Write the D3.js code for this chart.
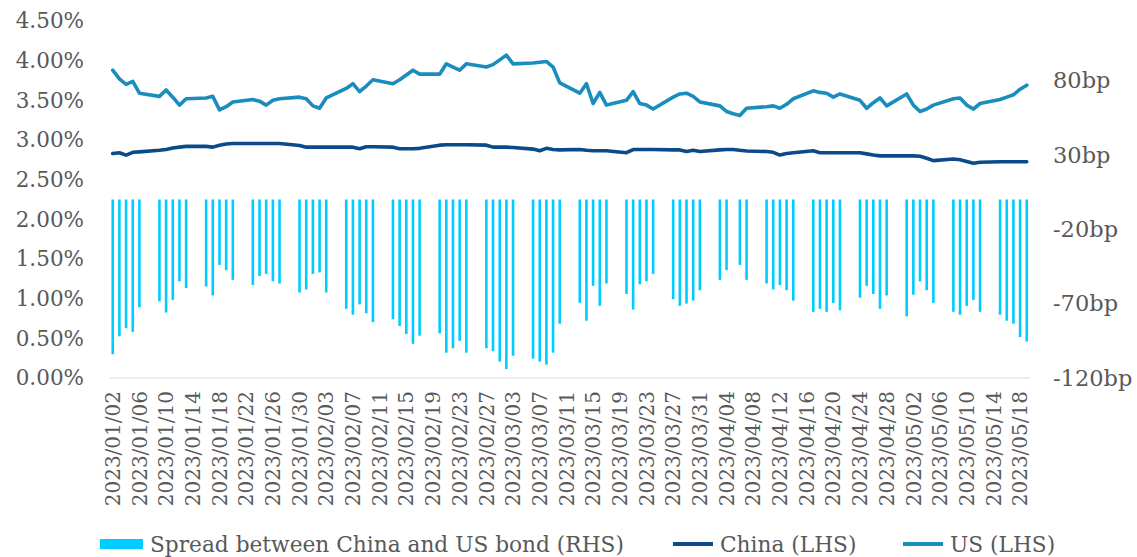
<!DOCTYPE html>
<html>
<head>
<meta charset="utf-8">
<script src="https://cdn.jsdelivr.net/npm/d3@7"></script>
<style>
  html, body { margin: 0; padding: 0; background: #ffffff; }
  svg { display: block; }
  text { font-family: "DejaVu Serif", "Liberation Serif", serif; fill: #595959; }
</style>
</head>
<body>
<svg id="chart" width="1137" height="557"></svg>
<script>
// ---------- DATA ----------
const dates = [
  "2023-01-02","2023-01-03","2023-01-04","2023-01-05","2023-01-06",
  "2023-01-09","2023-01-10","2023-01-11","2023-01-12","2023-01-13",
  "2023-01-16","2023-01-17","2023-01-18","2023-01-19","2023-01-20",
  "2023-01-23","2023-01-24","2023-01-25","2023-01-26","2023-01-27",
  "2023-01-30","2023-01-31","2023-02-01","2023-02-02","2023-02-03",
  "2023-02-06","2023-02-07","2023-02-08","2023-02-09","2023-02-10",
  "2023-02-13","2023-02-14","2023-02-15","2023-02-16","2023-02-17",
  "2023-02-20","2023-02-21","2023-02-22","2023-02-23","2023-02-24",
  "2023-02-27","2023-02-28","2023-03-01","2023-03-02","2023-03-03",
  "2023-03-06","2023-03-07","2023-03-08","2023-03-09","2023-03-10",
  "2023-03-13","2023-03-14","2023-03-15","2023-03-16","2023-03-17",
  "2023-03-20","2023-03-21","2023-03-22","2023-03-23","2023-03-24",
  "2023-03-27","2023-03-28","2023-03-29","2023-03-30","2023-03-31",
  "2023-04-03","2023-04-04","2023-04-05","2023-04-06","2023-04-07",
  "2023-04-10","2023-04-11","2023-04-12","2023-04-13","2023-04-14",
  "2023-04-17","2023-04-18","2023-04-19","2023-04-20","2023-04-21",
  "2023-04-24","2023-04-25","2023-04-26","2023-04-27","2023-04-28",
  "2023-05-01","2023-05-02","2023-05-03","2023-05-04","2023-05-05",
  "2023-05-08","2023-05-09","2023-05-10","2023-05-11","2023-05-12",
  "2023-05-15","2023-05-16","2023-05-17","2023-05-18","2023-05-19"
];

// China 10Y yield (%), LHS
const china = [
  2.83, 2.84, 2.81, 2.845, 2.85,
  2.87, 2.88, 2.90, 2.91, 2.92,
  2.92, 2.91, 2.935, 2.95, 2.955,
  2.955, 2.955, 2.955, 2.955, 2.955,
  2.93, 2.91, 2.91, 2.91, 2.91,
  2.91, 2.91, 2.89, 2.915, 2.915,
  2.91, 2.89, 2.89, 2.89, 2.895,
  2.935, 2.94, 2.94, 2.94, 2.94,
  2.935, 2.91, 2.91, 2.91, 2.905,
  2.885, 2.865, 2.895, 2.88, 2.875,
  2.88, 2.87, 2.865, 2.865, 2.865,
  2.84, 2.88, 2.88, 2.88, 2.88,
  2.875, 2.875, 2.855, 2.87, 2.855,
  2.875, 2.88, 2.88, 2.87, 2.862,
  2.855, 2.845, 2.81, 2.83, 2.84,
  2.865, 2.84, 2.84, 2.84, 2.84,
  2.84, 2.825, 2.81, 2.80, 2.80,
  2.80, 2.80, 2.795, 2.77, 2.74,
  2.76, 2.75, 2.73, 2.706, 2.72,
  2.725, 2.725, 2.725, 2.725, 2.725
];

// US 10Y yield (%), LHS
const us = [
  3.88, 3.77, 3.70, 3.74, 3.59,
  3.55, 3.63, 3.54, 3.44, 3.52,
  3.53, 3.55, 3.38, 3.42, 3.48,
  3.51, 3.49, 3.44, 3.50, 3.52,
  3.54, 3.52, 3.43, 3.40, 3.53,
  3.65, 3.71, 3.61, 3.68, 3.76,
  3.71, 3.76, 3.82, 3.88, 3.83,
  3.83, 3.96, 3.92, 3.88, 3.96,
  3.92, 3.95, 4.01, 4.07, 3.96,
  3.97, 3.98, 3.99, 3.92, 3.72,
  3.59, 3.71, 3.46, 3.60, 3.44,
  3.50, 3.61, 3.46, 3.44, 3.39,
  3.54, 3.58, 3.59, 3.55, 3.48,
  3.43, 3.36, 3.33, 3.31, 3.40,
  3.42, 3.43, 3.40, 3.45, 3.52,
  3.62, 3.60, 3.59, 3.54, 3.58,
  3.50, 3.40, 3.47, 3.53, 3.43,
  3.58, 3.44, 3.36, 3.39, 3.44,
  3.52, 3.53, 3.44, 3.39, 3.46,
  3.51, 3.54, 3.57, 3.64, 3.69
];

// Spread between China and US bond (bp), RHS
const spread = [
  -104, -92, -86.5, -89, -72.5,
  -68.5, -76, -67.5, -55, -59.5,
  -58.5, -64.5, -44, -47.5, -54,
  -57.5, -51.5, -50, -55, -56.5,
  -62.5, -60.5, -50, -49, -62.5,
  -73.5, -77.5, -70.5, -76.5, -82.5,
  -80.5, -85, -90.5, -97, -91.5,
  -90, -103, -100, -95, -103,
  -100, -102, -109, -114, -105,
  -107, -109, -111, -103, -83.5,
  -69.5, -81.5, -58, -71.5, -56.5,
  -63.5, -74, -57, -55, -50,
  -67, -71.5, -70, -68, -61,
  -54, -47.5, null, -44, -54,
  -56.5, -60.5, -57.5, -61, -68,
  -75.5, -73.5, -75.5, -69.5, -74.5,
  -66, -58, -63.5, -73.5, -64.5,
  -78.5, -64, -55, -61, -69.5,
  -75.5, -77.5, -71.5, -67.5, -75.5,
  -77.5, -81.5, -83.5, -92.5, -95.5
];

const xTickLabels = [
  "2023/01/02","2023/01/06","2023/01/10","2023/01/14","2023/01/18","2023/01/22",
  "2023/01/26","2023/01/30","2023/02/03","2023/02/07","2023/02/11","2023/02/15",
  "2023/02/19","2023/02/23","2023/02/27","2023/03/03","2023/03/07","2023/03/11",
  "2023/03/15","2023/03/19","2023/03/23","2023/03/27","2023/03/31","2023/04/04",
  "2023/04/08","2023/04/12","2023/04/16","2023/04/20","2023/04/24","2023/04/28",
  "2023/05/02","2023/05/06","2023/05/10","2023/05/14","2023/05/18"
];
const leftTicks = [0, 0.5, 1, 1.5, 2, 2.5, 3, 3.5, 4, 4.5];
const rightTicks = [-120, -70, -20, 30, 80];

const seriesNames = ["Spread between China and US bond (RHS)", "China (LHS)", "US (LHS)"];
const colors = { spread: "#00CCFF", china: "#0B4A8A", us: "#1A8DBE" };

// ---------- CHART ----------
const svg = d3.select("#chart");
const parse = d3.timeParse("%Y-%m-%d");
const fmtKey = d3.timeFormat("%Y/%m/%d");

const allDays = d3.timeDay.range(parse("2023-01-02"), d3.timeDay.offset(parse("2023-05-19"), 1)).map(fmtKey);

const plot = { left: 109.4, right: 1030.1, top: 21, bottom: 378 };

const x = d3.scaleBand().domain(allDays).range([plot.left, plot.right]).padding(0);
const yL = d3.scaleLinear().domain([0, 4.5]).range([plot.bottom, plot.top]);
const yR = d3.scaleLinear().domain([-120, 120]).range([plot.bottom, plot.top]);

const rows = dates.map((d, i) => ({
  key: fmtKey(parse(d)), china: china[i], us: us[i], spread: spread[i]
}));
const cx = d => x(d.key) + x.bandwidth() / 2;

// bars
const barW = 2.6;
svg.append("g").selectAll("rect")
  .data(rows.filter(r => r.spread != null))
  .join("rect")
  .attr("x", d => cx(d) - barW / 2)
  .attr("y", d => yR(Math.max(0, d.spread)))
  .attr("width", barW)
  .attr("height", d => Math.abs(yR(d.spread) - yR(0)))
  .attr("fill", colors.spread);

// x axis baseline
svg.append("line")
  .attr("x1", plot.left).attr("x2", plot.right)
  .attr("y1", yL(0)).attr("y2", yL(0))
  .attr("stroke", "#d9d9d9").attr("stroke-width", 1.2);

// lines
const lineChina = d3.line().x(cx).y(d => yL(d.china));
const lineUS = d3.line().x(cx).y(d => yL(d.us));
svg.append("path").datum(rows).attr("d", lineChina)
  .attr("fill", "none").attr("stroke", colors.china).attr("stroke-width", 3.6)
  .attr("stroke-linejoin", "round").attr("stroke-linecap", "round");
svg.append("path").datum(rows).attr("d", lineUS)
  .attr("fill", "none").attr("stroke", colors.us).attr("stroke-width", 3.6)
  .attr("stroke-linejoin", "round").attr("stroke-linecap", "round");

// left axis
const axL = d3.axisLeft(yL).tickValues(leftTicks).tickFormat(d => d.toFixed(2) + "%").tickSize(0).tickPadding(0);
const gL = svg.append("g").attr("transform", "translate(84,0)").call(axL);
gL.select(".domain").remove();
gL.selectAll("text").attr("font-size", 21.5).attr("fill", "#595959")
  .style("font-family", '"DejaVu Serif", serif');

// right axis
const axR = d3.axisRight(yR).tickValues(rightTicks).tickFormat(d => d + "bp").tickSize(0).tickPadding(0);
const gR = svg.append("g").attr("transform", "translate(1053,0)").call(axR);
gR.select(".domain").remove();
gR.selectAll("text").attr("font-size", 22.5).attr("fill", "#595959")
  .style("font-family", '"DejaVu Serif", serif');

// x axis labels
const axX = d3.axisBottom(x).tickValues(xTickLabels).tickSize(0).tickPadding(0);
const gX = svg.append("g").attr("transform", "translate(0," + 391 + ")").call(axX);
gX.select(".domain").remove();
gX.selectAll("text")
  .attr("font-size", 20).attr("fill", "#595959")
  .style("font-family", '"DejaVu Serif", serif')
  .attr("text-anchor", "end")
  .attr("transform", "rotate(-90)")
  .attr("x", 0).attr("y", 0).attr("dy", "0.36em");

// legend
const lg = svg.append("g").attr("font-size", 21.7);
const legY = 544;
lg.append("rect").attr("x", 100).attr("y", legY - 5).attr("width", 43).attr("height", 10).attr("fill", colors.spread);
lg.append("text").attr("x", 150).attr("y", legY).attr("dy", "0.36em").text(seriesNames[0]);
lg.append("line").attr("x1", 673).attr("x2", 713).attr("y1", legY).attr("y2", legY)
  .attr("stroke", colors.china).attr("stroke-width", 4);
lg.append("text").attr("x", 720).attr("y", legY).attr("dy", "0.36em").text(seriesNames[1]);
lg.append("line").attr("x1", 903).attr("x2", 943).attr("y1", legY).attr("y2", legY)
  .attr("stroke", colors.us).attr("stroke-width", 4);
lg.append("text").attr("x", 950).attr("y", legY).attr("dy", "0.36em").text(seriesNames[2]);
</script>
</body>
</html>
